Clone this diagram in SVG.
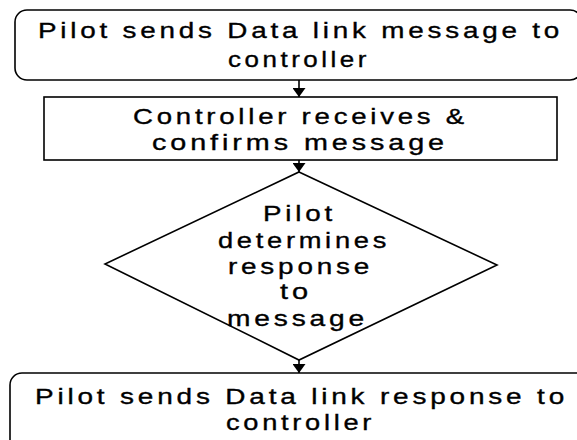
<svg xmlns="http://www.w3.org/2000/svg" width="577" height="440" viewBox="0 0 577 440">
<style>
.box{fill:#fff;stroke:#000;stroke-width:1.6}
.t{font-family:"Liberation Sans",Arial,sans-serif;font-size:22px;letter-spacing:3px;fill:#000;stroke:#000;stroke-width:0.35}
.c{fill:none;stroke:#000;stroke-width:1.6}
</style>
<defs>
<marker id="ah" viewBox="0 0 10 10" refX="10" refY="5" markerWidth="9" markerHeight="13" markerUnits="userSpaceOnUse" orient="auto" preserveAspectRatio="none">
<path d="M0,0 L10,5 L0,10 z" fill="#000"/>
</marker>
</defs>
<rect width="577" height="440" fill="#fff"/>
<g id="node1">
<rect class="box" x="15" y="10" width="567" height="70" rx="12"/>
<text class="t" x="38" y="38" textLength="525" lengthAdjust="spacingAndGlyphs">Pilot sends Data link message to</text>
<text class="t" x="228" y="67" textLength="142" lengthAdjust="spacingAndGlyphs">controller</text>
</g>
<g id="node2">
<rect class="box" x="44" y="97" width="513" height="63"/>
<text class="t" x="133" y="124" textLength="335" lengthAdjust="spacingAndGlyphs">Controller receives &amp;</text>
<text class="t" x="152" y="150" textLength="296" lengthAdjust="spacingAndGlyphs">confirms message</text>
</g>
<g id="node3">
<polygon class="box" points="299,172 497,265 299,360 105,264"/>
<text class="t" x="263" y="221" textLength="73" lengthAdjust="spacingAndGlyphs">Pilot</text>
<text class="t" x="218" y="248" textLength="172" lengthAdjust="spacingAndGlyphs">determines</text>
<text class="t" x="228" y="274" textLength="145" lengthAdjust="spacingAndGlyphs">response</text>
<text class="t" x="280" y="299" textLength="32" lengthAdjust="spacingAndGlyphs">to</text>
<text class="t" x="227" y="326" textLength="141" lengthAdjust="spacingAndGlyphs">message</text>
</g>
<g id="node4">
<rect class="box" x="10" y="373" width="590" height="100" rx="12"/>
<text class="t" x="35" y="404" textLength="533" lengthAdjust="spacingAndGlyphs">Pilot sends Data link response to</text>
<text class="t" x="226" y="430" textLength="149" lengthAdjust="spacingAndGlyphs">controller</text>
</g>
<g id="connectors">
<path class="c" d="M299,80 L299,97" marker-end="url(#ah)"/>
<path class="c" d="M299,160 L299,172" marker-end="url(#ah)"/>
<path class="c" d="M299,360 L299,373" marker-end="url(#ah)"/>
</g>
</svg>
